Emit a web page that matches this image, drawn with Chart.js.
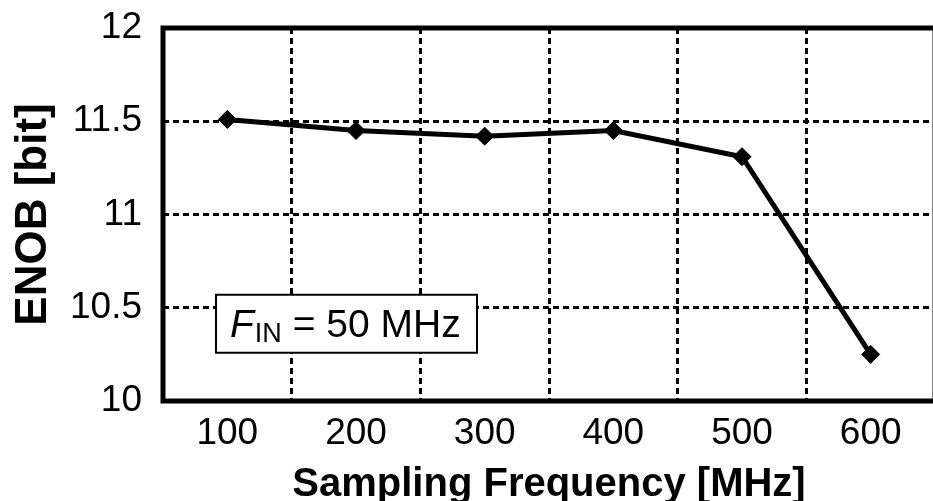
<!DOCTYPE html>
<html>
<head>
<meta charset="utf-8">
<script src="https://cdn.jsdelivr.net/npm/chart.js@4.4.1/dist/chart.umd.min.js"></script>
<style>
  html, body { margin: 0; padding: 0; background: #fff; overflow: hidden; width: 933px; height: 501px; }
  #wrap { width: 945px; height: 501px; position: relative; }
  canvas { display: block; }
</style>
</head>
<body>
<div id="wrap"><canvas id="c" width="945" height="501"></canvas></div>
<script>
// Sampling frequencies (MHz) and measured ENOB (bit)
const frequencies = ['100', '200', '300', '400', '500', '600'];
const enobValues = [11.51, 11.45, 11.42, 11.45, 11.31, 10.25];
const yMin = 10, yMax = 12, yStep = 0.5;
const inputLabelMain = 'F';
const inputLabelSub = 'IN';
const inputLabelRest = ' = 50 MHz';

const FONT = '"Liberation Sans", Arial, sans-serif';

// Thick frame around the plot area
const framePlugin = {
  id: 'frame',
  beforeDatasetsDraw(chart) {
    const { ctx, chartArea: a } = chart;
    ctx.save();
    ctx.strokeStyle = '#000';
    ctx.lineWidth = 5;
    ctx.strokeRect(a.left, a.top, a.right - a.left, a.bottom - a.top);
    ctx.restore();
  }
};

// Boxed note giving the input frequency
const notePlugin = {
  id: 'note',
  afterDraw(chart) {
    const { ctx } = chart;
    const xs = chart.scales.x, ys = chart.scales.y;
    const left = xs.left + 53;
    const top = ys.getPixelForValue(10.5) - 13;
    const w = 261, h = 58;
    ctx.save();
    ctx.fillStyle = '#fff';
    ctx.fillRect(left, top, w, h);
    ctx.strokeStyle = '#000';
    ctx.lineWidth = 2;
    ctx.strokeRect(left, top, w, h);
    ctx.fillStyle = '#000';
    ctx.textBaseline = 'alphabetic';
    const base = top + 42;
    let x = left + 14;
    ctx.font = 'italic 39px ' + FONT;
    ctx.fillText(inputLabelMain, x, base);
    x += ctx.measureText(inputLabelMain).width + 1;
    ctx.font = '27px ' + FONT;
    ctx.fillText(inputLabelSub, x, base + 5);
    x += ctx.measureText(inputLabelSub).width;
    ctx.font = '39px ' + FONT;
    ctx.fillText(inputLabelRest, x, base);
    ctx.restore();
  }
};

new Chart(document.getElementById('c'), {
  type: 'line',
  data: {
    labels: frequencies,
    datasets: [{
      data: enobValues,
      borderColor: '#000',
      backgroundColor: '#000',
      borderWidth: 5,
      pointStyle: 'rectRot',
      pointRadius: 9,
      pointBorderWidth: 1,
      pointBackgroundColor: '#000',
      pointBorderColor: '#000',
      tension: 0,
      clip: false
    }]
  },
  options: {
    responsive: false,
    animation: false,
    devicePixelRatio: 1,
    layout: { padding: { top: 28, right: 0, bottom: 0, left: 0 } },
    plugins: { legend: { display: false }, tooltip: { enabled: false } },
    scales: {
      x: {
        type: 'category',
        offset: true,
        grid: {
          offset: true,
          color: '#000',
          lineWidth: 3,
          drawTicks: false
        },
        border: { display: false, dash: [6, 4] },
        ticks: {
          color: '#000',
          padding: 11,
          font: { family: FONT, size: 37 }
        },
        title: {
          display: true,
          text: 'Sampling Frequency [MHz]',
          color: '#000',
          font: { family: FONT, size: 40, weight: 'bold' },
          padding: { top: 0, bottom: -8 }
        },
        afterFit(scale) { scale.height = 100; }
      },
      y: {
        min: yMin,
        max: yMax,
        grid: {
          color: '#000',
          lineWidth: 3,
          drawTicks: false
        },
        border: { display: false, dash: [6, 4] },
        ticks: {
          stepSize: yStep,
          color: '#000',
          padding: 21,
          font: { family: FONT, size: 37 },
          callback: (v) => String(v)
        },
        title: {
          display: true,
          text: 'ENOB [bit]',
          color: '#000',
          font: { family: FONT, size: 44, weight: 'bold' },
          padding: { top: 7, bottom: 0 }
        },
        afterFit(scale) {
          scale.width = 163;
          scale.paddingTop = 0;
          scale.paddingBottom = 0;
        }
      }
    }
  },
  plugins: [framePlugin, notePlugin]
});
</script>
</body>
</html>
